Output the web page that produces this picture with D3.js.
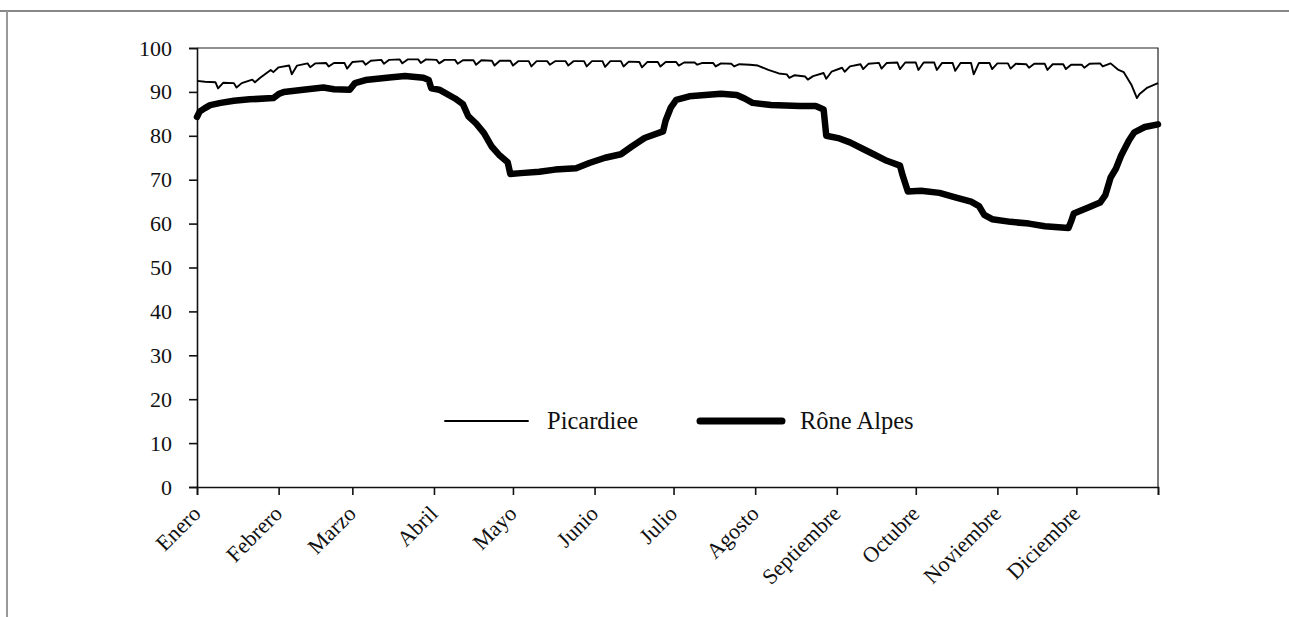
<!DOCTYPE html>
<html lang="es">
<head>
<meta charset="UTF-8">
<script src="https://cdn.jsdelivr.net/npm/d3@7"></script>
<style>
  body { margin: 0; background: #fff; }
  svg text { font-family: "Liberation Serif", "Times New Roman", serif; fill: #111; }
</style>
</head>
<body>
<svg id="chart" width="1289" height="617"></svg>
<script>
// month labels and their starting day of year
var months = ["Enero", "Febrero", "Marzo", "Abril", "Mayo", "Junio", "Julio",
              "Agosto", "Septiembre", "Octubre", "Noviembre", "Diciembre"];
var monthStart = [0, 31, 59, 90, 120, 151, 181, 212, 243, 273, 304, 334];
var yTicks = [0, 10, 20, 30, 40, 50, 60, 70, 80, 90, 100];

// Picardiee: [day, %] (weekly dips included)
var picardiee = [
  [0, 92.5], [3, 92.3],
  [7, 92.2], [8, 90.8], [10, 92.1],
  [14, 92.0], [15, 91.0], [17, 92.0],
  [21, 92.8], [22, 92.2], [24, 93.2],
  [28, 95.0], [29, 94.5], [31, 95.6],
  [35, 96.0], [36, 94.0], [38, 96.0],
  [42, 96.5], [43, 95.6], [45, 96.5],
  [49, 96.6], [50, 95.8], [52, 96.6],
  [56, 96.6], [57, 95.3], [59, 96.8],
  [63, 97.0], [64, 96.2], [66, 97.1],
  [70, 97.3], [71, 96.4], [73, 97.3],
  [77, 97.4], [78, 96.5], [80, 97.4],
  [84, 97.4], [85, 96.6], [87, 97.4],
  [91, 97.3], [92, 96.5], [94, 97.3],
  [98, 97.3], [99, 96.4], [101, 97.2],
  [105, 97.2], [106, 96.2], [108, 97.2],
  [112, 97.1], [113, 96.0], [115, 97.1],
  [119, 97.1], [120, 96.0], [122, 97.0],
  [126, 97.0], [127, 95.8], [129, 97.0],
  [133, 97.0], [134, 96.2], [136, 97.0],
  [140, 97.0], [141, 96.0], [143, 97.0],
  [147, 97.0], [148, 95.8], [150, 97.0],
  [154, 97.0], [155, 95.7], [157, 97.0],
  [161, 97.0], [162, 95.8], [164, 96.9],
  [168, 96.8], [169, 95.6], [171, 96.8],
  [175, 96.8], [176, 95.8], [178, 96.8],
  [182, 96.8], [183, 96.0], [185, 96.7],
  [189, 96.7], [190, 96.2], [192, 96.6],
  [196, 96.6], [197, 95.8], [199, 96.5],
  [203, 96.4], [204, 95.8], [206, 96.3],
  [210, 96.2], [213, 96.0], [217, 95.0], [221, 94.2],
  [224, 94.0], [225, 93.2], [227, 93.8],
  [231, 93.5], [232, 92.8], [234, 93.6],
  [238, 94.3], [239, 93.0], [241, 94.6],
  [245, 95.5], [246, 94.6], [248, 95.8],
  [252, 96.3], [253, 95.2], [255, 96.4],
  [259, 96.6], [260, 95.3], [262, 96.6],
  [266, 96.7], [267, 95.2], [269, 96.7],
  [273, 96.7], [274, 95.0], [276, 96.7],
  [280, 96.7], [281, 95.0], [283, 96.6],
  [287, 96.6], [288, 94.8], [290, 96.6],
  [294, 96.6], [295, 94.0], [297, 96.6],
  [301, 96.6], [302, 95.2], [304, 96.5],
  [308, 96.5], [309, 95.3], [311, 96.4],
  [315, 96.3], [316, 95.5], [318, 96.4],
  [322, 96.4], [323, 95.0], [325, 96.3],
  [329, 96.3], [330, 95.2], [332, 96.2],
  [336, 96.2], [337, 95.5], [339, 96.4],
  [343, 96.5], [344, 95.8], [347, 96.5],
  [350, 95.0], [352, 94.5], [355, 91.5], [357, 88.6], [358, 89.5],
  [361, 91.0], [365, 92.0]
];

// Rône Alpes: [day, %]
var roneAlpes = [
  [0, 84.3], [1, 85.5], [3, 86.3], [5, 87.0], [9, 87.5], [14, 88.0],
  [20, 88.3], [29, 88.6], [31, 89.5], [33, 90.0], [42, 90.6], [48, 91.0],
  [52, 90.6], [58, 90.5], [60, 92.0], [64, 92.7], [73, 93.3], [79, 93.6],
  [86, 93.2], [88, 92.7], [89, 90.8], [92, 90.5], [98, 88.5], [101, 87.2],
  [103, 84.5], [106, 82.8], [109, 80.6], [112, 77.5], [115, 75.5], [118, 74.0],
  [119, 71.3], [123, 71.5], [130, 71.8], [136, 72.3], [144, 72.6], [149, 73.8],
  [155, 75.0], [161, 75.8], [165, 77.5], [170, 79.5], [177, 81.0], [178, 83.5],
  [180, 86.5], [182, 88.2], [187, 89.0], [193, 89.3], [199, 89.6], [205, 89.3],
  [208, 88.5], [211, 87.5], [218, 87.0], [229, 86.8], [235, 86.8], [238, 86.0],
  [239, 80.0], [244, 79.4], [248, 78.5], [253, 77.0], [257, 75.8], [262, 74.3],
  [267, 73.2], [268, 71.0], [270, 67.3], [275, 67.5], [282, 67.0], [288, 66.0],
  [294, 65.0], [297, 64.0], [299, 62.0], [302, 61.0], [309, 60.4], [316, 60.0],
  [322, 59.4], [331, 59.0], [332, 60.5], [333, 62.3], [339, 63.8], [343, 64.8],
  [345, 66.5], [347, 70.5], [349, 72.5], [351, 75.5], [354, 79.0], [356, 80.8],
  [360, 82.0], [365, 82.6]
];

var svg = d3.select("#chart");

// page frame (scan border)
svg.append("line").attr("x1", 0).attr("x2", 1289).attr("y1", 11).attr("y2", 11)
   .attr("stroke", "#888").attr("stroke-width", 2);
svg.append("line").attr("x1", 7).attr("x2", 7).attr("y1", 11).attr("y2", 617)
   .attr("stroke", "#999").attr("stroke-width", 2);

var margin = { left: 197, top: 48, right: 1158, bottom: 487 };

var x = d3.scaleLinear().domain([0, 365]).range([margin.left, margin.right]);
var y = d3.scaleLinear().domain([0, 100]).range([margin.bottom, margin.top]);

// plot border (top and right)
svg.append("path")
   .attr("d", "M" + margin.left + "," + margin.top + "H" + margin.right + "V" + margin.bottom)
   .attr("fill", "none").attr("stroke", "#222").attr("stroke-width", 1.2);

// y axis
var gy = svg.append("g")
   .attr("transform", "translate(" + margin.left + ",0)")
   .call(d3.axisLeft(y).tickValues(yTicks).tickSize(8).tickPadding(17));
gy.selectAll("text").style("font-size", "22px");

// x axis: ticks at month starts plus the year end
var gx = svg.append("g")
   .attr("transform", "translate(0," + margin.bottom + ")")
   .call(d3.axisBottom(x).tickValues(monthStart.concat([365])).tickSize(8).tickFormat(""));

svg.selectAll(".domain, .tick line").attr("stroke", "#111").attr("stroke-width", 1.6);

// rotated month names, ending at their tick
gx.selectAll(".monthLabel")
   .data(months)
   .enter()
   .append("text")
   .attr("class", "monthLabel")
   .attr("text-anchor", "end")
   .style("font-size", "22px")
   .attr("transform", function(d, i) {
       return "translate(" + (x(monthStart[i]) + 5) + ",28) rotate(-45)";
   })
   .text(function(d) { return d; });

// lines
var line = d3.line()
   .x(function(d) { return x(d[0]); })
   .y(function(d) { return y(d[1]); });

svg.append("path")
   .datum(roneAlpes)
   .attr("d", line)
   .attr("fill", "none")
   .attr("stroke", "#000")
   .attr("stroke-width", 6.5)
   .attr("stroke-linejoin", "round")
   .attr("stroke-linecap", "round");

svg.append("path")
   .datum(picardiee)
   .attr("d", line)
   .attr("fill", "none")
   .attr("stroke", "#000")
   .attr("stroke-width", 1.9)
   .attr("stroke-linejoin", "round");

// legend
var legend = [
  { name: "Picardiee", width: 1.9, x0: 445, x1: 528, tx: 547 },
  { name: "Rône Alpes", width: 7, x0: 700, x1: 782, tx: 800 }
];
var lg = svg.append("g");
lg.selectAll("line")
  .data(legend)
  .enter()
  .append("line")
  .attr("x1", function(d) { return d.x0; })
  .attr("x2", function(d) { return d.x1; })
  .attr("y1", 421).attr("y2", 421)
  .attr("stroke", "#000")
  .attr("stroke-linecap", "round")
  .attr("stroke-width", function(d) { return d.width; });
lg.selectAll("text")
  .data(legend)
  .enter()
  .append("text")
  .attr("x", function(d) { return d.tx; })
  .attr("y", 429)
  .style("font-size", "24.5px")
  .text(function(d) { return d.name; });
</script>
</body>
</html>
